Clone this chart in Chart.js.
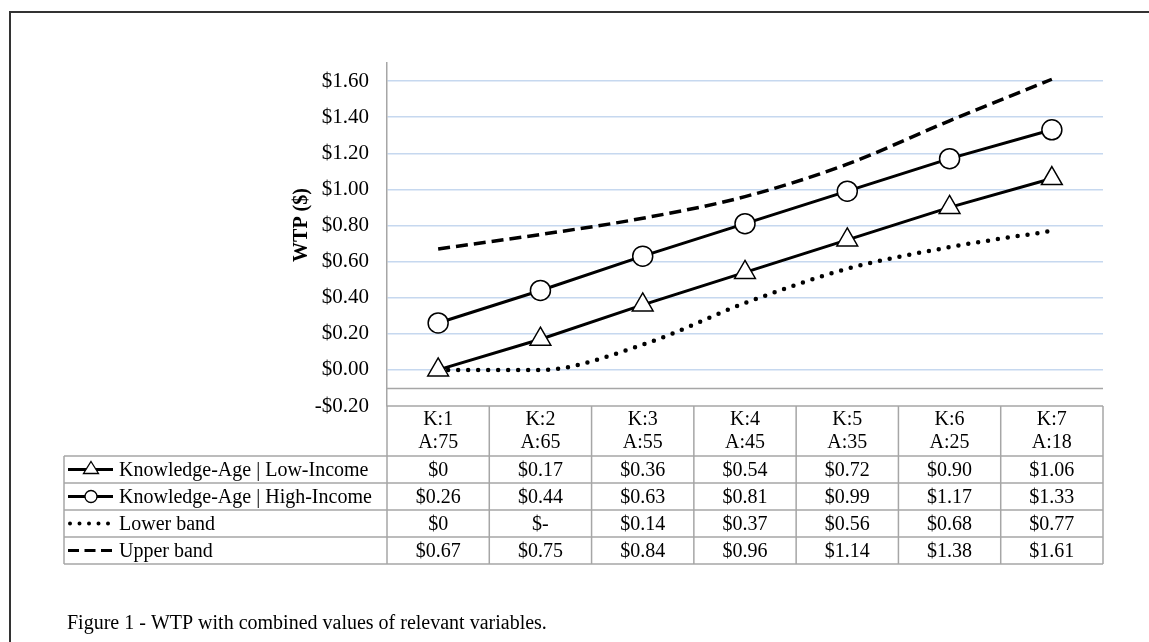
<!DOCTYPE html>
<html>
<head>
<meta charset="utf-8">
<script src="https://cdn.jsdelivr.net/npm/chart.js@4/dist/chart.umd.min.js"></script>
<style>
  body { margin: 0; background: #fff; }
  canvas { display: block; }
</style>
</head>
<body>
<canvas id="grafica" width="1149" height="642"></canvas>
<script>
// datos
var categorias = [["K:1", "A:75"], ["K:2", "A:65"], ["K:3", "A:55"], ["K:4", "A:45"], ["K:5", "A:35"], ["K:6", "A:25"], ["K:7", "A:18"]];
var bajoIngreso = [0, 0.17, 0.36, 0.54, 0.72, 0.90, 1.06];
var altoIngreso = [0.26, 0.44, 0.63, 0.81, 0.99, 1.17, 1.33];
var bandaInferior = [0, 0, 0.14, 0.37, 0.56, 0.68, 0.77];
var bandaSuperior = [0.67, 0.75, 0.84, 0.96, 1.14, 1.38, 1.61];
var valoresEje = [-0.2, 0, 0.2, 0.4, 0.6, 0.8, 1.0, 1.2, 1.4, 1.6];

// textos de la tabla de datos (tal como salen en Excel)
var nombresSeries = ["Knowledge-Age | Low-Income", "Knowledge-Age | High-Income", "Lower band", "Upper band"];
var textoBajo = ["$0", "$0.17", "$0.36", "$0.54", "$0.72", "$0.90", "$1.06"];
var textoAlto = ["$0.26", "$0.44", "$0.63", "$0.81", "$0.99", "$1.17", "$1.33"];
var textoInferior = ["$0", "$-", "$0.14", "$0.37", "$0.56", "$0.68", "$0.77"];
var textoSuperior = ["$0.67", "$0.75", "$0.84", "$0.96", "$1.14", "$1.38", "$1.61"];

var fuente = "'Liberation Serif', 'Times New Roman', serif";
var gris = "#a6a6a6";

function formatoDolar(v) {
        if (v < 0) return "-$" + Math.abs(v).toFixed(2);
        return "$" + v.toFixed(2);
}

//-------------------------------------- tabla + marco ---------------------------------------
var pluginTabla = {
        id: "tablaDatos",
        beforeDatasetsDraw: function (chart) {
                var ctx = chart.ctx, y = chart.scales.y, a = chart.chartArea;
                // linea gris del eje horizontal
                ctx.save();
                ctx.strokeStyle = gris;
                ctx.lineWidth = 1.5;
                ctx.beginPath();
                ctx.moveTo(a.left, Math.round(y.getPixelForValue(-0.1)) + 0.5);
                ctx.lineTo(a.right, Math.round(y.getPixelForValue(-0.1)) + 0.5);
                ctx.stroke();
                ctx.restore();
        },
        afterDraw: function (chart) {
                var ctx = chart.ctx, x = chart.scales.x, a = chart.chartArea;
                var ancho = (a.right - a.left) / categorias.length;
                var izq = 64;
                var filas = [a.bottom, a.bottom + 50, a.bottom + 77, a.bottom + 104, a.bottom + 131, a.bottom + 158];
                ctx.save();

                // marco exterior
                ctx.strokeStyle = "#333";
                ctx.lineWidth = 2;
                ctx.strokeRect(10, 12, 1200, 700);

                // lineas de la tabla
                ctx.strokeStyle = gris;
                ctx.lineWidth = 1.5;
                ctx.beginPath();
                ctx.moveTo(a.left, filas[0]);
                ctx.lineTo(a.right, filas[0]);
                for (var i = 1; i < filas.length; i++) {
                        ctx.moveTo(izq, filas[i]);
                        ctx.lineTo(a.right, filas[i]);
                }
                ctx.moveTo(izq, filas[1]);
                ctx.lineTo(izq, filas[5]);
                for (var c = 0; c <= categorias.length; c++) {
                        var xc = a.left + c * ancho;
                        ctx.moveTo(xc, filas[0]);
                        ctx.lineTo(xc, filas[5]);
                }
                ctx.stroke();

                // encabezados
                ctx.fillStyle = "#000";
                ctx.font = "20px " + fuente;
                ctx.textAlign = "center";
                ctx.textBaseline = "middle";
                categorias.forEach(function (cat, k) {
                        var cx = x.getPixelForValue(k);
                        ctx.fillText(cat[0], cx, filas[0] + 14);
                        ctx.fillText(cat[1], cx, filas[0] + 37);
                });

                // valores
                var textos = [textoBajo, textoAlto, textoInferior, textoSuperior];
                textos.forEach(function (fila, r) {
                        var cy = (filas[r + 1] + filas[r + 2]) / 2 + 1;
                        fila.forEach(function (t, k) {
                                ctx.fillText(t, x.getPixelForValue(k), cy);
                        });
                });

                // claves de leyenda
                ctx.textAlign = "left";
                nombresSeries.forEach(function (nombre, r) {
                        var cy = (filas[r + 1] + filas[r + 2]) / 2;
                        ctx.fillStyle = "#000";
                        ctx.fillText(nombre, 119, cy + 1);
                        ctx.strokeStyle = "#000";
                        ctx.lineWidth = 3;
                        ctx.setLineDash([]);
                        ctx.lineCap = "butt";
                        var x0 = 68, x1 = 113;
                        if (r === 2) {
                                ctx.setLineDash([0, 9.5]);
                                ctx.lineCap = "round";
                                ctx.lineWidth = 4;
                                x0 = 70; x1 = 109;
                        } else if (r === 3) {
                                ctx.setLineDash([11, 5.5]);
                                x1 = 112;
                        }
                        ctx.beginPath();
                        ctx.moveTo(x0, cy);
                        ctx.lineTo(x1, cy);
                        ctx.stroke();
                        ctx.setLineDash([]);
                        ctx.lineWidth = 1.3;
                        ctx.fillStyle = "#fff";
                        if (r === 0) {
                                ctx.beginPath();
                                ctx.moveTo(91, cy - 8);
                                ctx.lineTo(98.5, cy + 4);
                                ctx.lineTo(83.5, cy + 4);
                                ctx.closePath();
                                ctx.fill();
                                ctx.stroke();
                        } else if (r === 1) {
                                ctx.beginPath();
                                ctx.arc(91, cy, 6, 0, Math.PI * 2);
                                ctx.fill();
                                ctx.stroke();
                        }
                });

                // titulo del eje y
                ctx.save();
                ctx.translate(302, 225);
                ctx.rotate(-Math.PI / 2);
                ctx.textAlign = "center";
                ctx.fillStyle = "#000";
                ctx.font = "bold 20px " + fuente;
                ctx.fillText("WTP ($)", 0, 0);
                ctx.restore();

                // pie de figura
                ctx.textAlign = "left";
                ctx.textBaseline = "alphabetic";
                ctx.fillStyle = "#000";
                ctx.font = "20px " + fuente;
                ctx.fillText("Figure 1 - WTP with combined values of relevant variables.", 67, 629);
                ctx.restore();
        }
};

function crearGrafica(contenedorId) {
        return new Chart(document.getElementById(contenedorId).getContext("2d"), {
                type: "line",
                data: {
                        labels: categorias.map(function (c) { return c.join(" "); }),
                        datasets: [{
                                label: nombresSeries[0],
                                data: bajoIngreso,
                                borderColor: "#000",
                                borderWidth: 3,
                                pointStyle: "triangle",
                                pointRadius: 12,
                                pointBackgroundColor: "#fff",
                                pointBorderColor: "#000",
                                pointBorderWidth: 1.5,
                                tension: 0
                        }, {
                                label: nombresSeries[1],
                                data: altoIngreso,
                                borderColor: "#000",
                                borderWidth: 3,
                                pointStyle: "circle",
                                pointRadius: 10,
                                pointBackgroundColor: "#fff",
                                pointBorderColor: "#000",
                                pointBorderWidth: 1.5,
                                tension: 0
                        }, {
                                label: nombresSeries[2],
                                data: bandaInferior,
                                borderColor: "#000",
                                borderWidth: 4.5,
                                borderDash: [0, 10],
                                borderCapStyle: "round",
                                pointRadius: 0,
                                cubicInterpolationMode: "monotone"
                        }, {
                                label: nombresSeries[3],
                                data: bandaSuperior,
                                borderColor: "#000",
                                borderWidth: 3.5,
                                borderDash: [12, 6],
                                pointRadius: 0,
                                cubicInterpolationMode: "monotone"
                        }]
                },
                options: {
                        responsive: false,
                        animation: false,
                        layout: { padding: { top: 63, right: 46, bottom: 236, left: 0 } },
                        plugins: { legend: { display: false }, tooltip: { enabled: false } },
                        scales: {
                                x: { display: false, offset: true },
                                y: {
                                        min: -0.2,
                                        max: 1.7,
                                        afterFit: function (s) { s.width = 387; },
                                        afterBuildTicks: function (s) {
                                                s.ticks = valoresEje.map(function (v) { return { value: v }; });
                                        },
                                        ticks: {
                                                padding: 18,
                                                color: "#000",
                                                font: { family: fuente, size: 21 },
                                                callback: function (v) { return formatoDolar(v); }
                                        },
                                        grid: {
                                                drawTicks: false,
                                                lineWidth: 1.5,
                                                color: function (c) {
                                                        return (c.tick && c.tick.value > -0.05) ? "#c6d8ef" : "rgba(0,0,0,0)";
                                                }
                                        },
                                        border: { color: gris, width: 1.5 }
                                }
                        }
                },
                plugins: [pluginTabla]
        });
}

crearGrafica("grafica");
</script>
</body>
</html>
